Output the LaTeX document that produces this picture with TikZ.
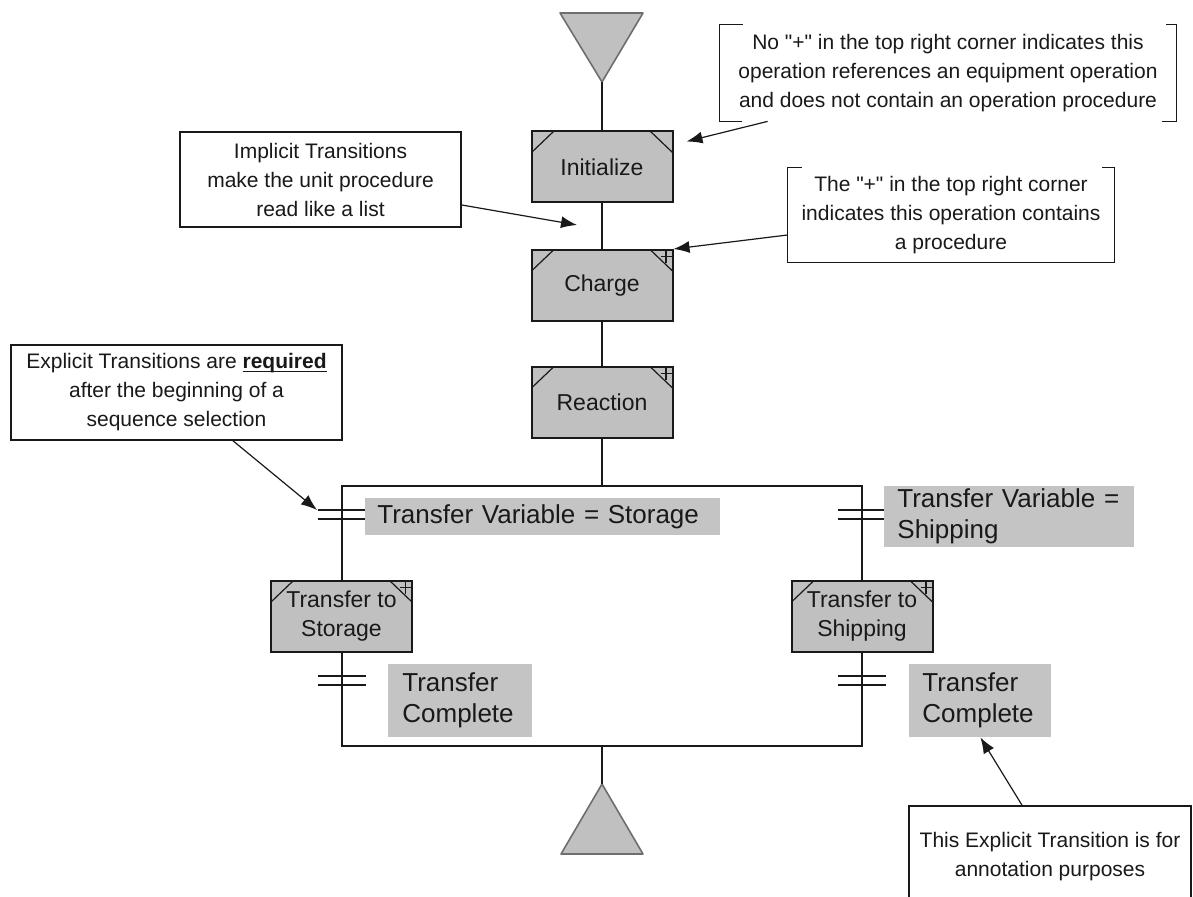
\documentclass[tikz,border=0pt]{standalone}
\usepackage{fontspec}
\setmainfont{Liberation Sans}[Ligatures=TeXOff]
\usetikzlibrary{arrows.meta}

\definecolor{opfill}{RGB}{192,192,192}
\definecolor{lblfill}{RGB}{196,196,196}
\definecolor{triedge}{RGB}{110,110,110}
\definecolor{ink}{RGB}{25,25,25}

% corner marks of an operation box
\newcommand{\opcorners}{%
  \draw[ink, line width=0.6pt] ([yshift=-10.5pt]path picture bounding box.north west) -- ([xshift=11pt]path picture bounding box.north west);
  \draw[ink, line width=0.6pt] ([xshift=-11pt]path picture bounding box.north east) -- ([yshift=-10.5pt]path picture bounding box.north east);}
% "+" mark: the operation contains a procedure
\newcommand{\opplusmark}{%
  \draw[ink, line width=0.6pt] ([xshift=-3.3pt]path picture bounding box.north east) -- ++(0,-6.5pt);
  \draw[ink, line width=0.6pt] ([xshift=-6pt,yshift=-3.3pt]path picture bounding box.north east) -- ++(6pt,0);}

\tikzset{
  flow/.style={draw=ink, line width=1pt},
  opbox/.style={draw=ink, line width=1pt, fill=opfill, minimum width=70.5pt, minimum height=35.5pt,
    inner sep=0pt, align=center, text=ink, font=\fontsize{11.5}{14.5}\selectfont, path picture={\opcorners}},
  opboxplus/.style={opbox, path picture={\opcorners\opplusmark}},
  cond/.style={fill=lblfill, anchor=west, inner ysep=0pt, align=left, text=ink,
    font=\fontsize{13}{15.5}\selectfont},
  note/.style={align=center, inner sep=0pt, text=ink, font=\fontsize{10.5}{14.5}\selectfont},
  boxed/.style={note, draw=ink, line width=0.8pt, fill=white},
  bracket/.style={draw=ink, line width=0.8pt},
  callout/.style={draw=ink, line width=0.6pt, -{Latex[length=8pt,width=6pt]}},
  bar/.style={draw=ink, line width=1pt},
  tri/.style={fill=opfill, draw=triedge, line width=0.8pt, line join=round}
}

\begin{document}
\begin{tikzpicture}[x=0.5pt, y=-0.5pt]
\useasboundingbox (0,0) rectangle (1193,897);
\clip (0,0) rectangle (1193,897);

% start and end of the unit procedure
\draw[tri] (560,13) -- (643,13) -- (602,82) -- cycle;
\coordinate (topApex) at (602,82);
\draw[tri] (602,784) -- (643,854) -- (561,854) -- cycle;
\coordinate (botApex) at (602,784);

% operations
\node[opbox]     (init)   at (602,167)   {Initialize};
\node[opboxplus] (charge) at (602,285.5) {Charge};
\node[opboxplus] (react)  at (602,402.5) {Reaction};
\node[opboxplus] (ts)     at (341.5,616.5) {Transfer to\\Storage};
\node[opboxplus] (tsh)    at (862,616.5)   {Transfer to\\Shipping};

% sequence selection
\coordinate (selTop) at (602,486);
\coordinate (selBot) at (602,746);
\draw[flow] (topApex) -- (init.north);
\draw[flow] (init) -- (charge);
\draw[flow] (charge) -- (react);
\draw[flow] (react.south) -- (selTop);
\draw[flow] (ts.north) -- (ts.north |- selTop) -- (tsh.north |- selTop) -- (tsh.north);
\draw[flow] (ts.south) -- (ts.south |- selBot) -- (tsh.south |- selBot) -- (tsh.south);
\draw[flow] (selBot) -- (botApex);

% explicit transitions
\foreach \x/\y in {341.5/510, 862/510.5, 341.5/676, 862/676} {
  \draw[bar] (\x-24,\y) -- (\x+24,\y);
  \draw[bar] (\x-24,\y+9) -- (\x+24,\y+9);
}
\coordinate (barTL) at (317,510);

% transition conditions
\node[cond, inner xsep=6pt, text width=165.5pt, minimum height=18.5pt] (tvs) at (365,516.5) {Transfer Variable = Storage};
\node[cond, inner xsep=6.5pt, text width=112pt, minimum height=30.5pt] (tvsh) at (884,516.5) {Transfer Variable =\\Shipping};
\node[cond, inner xsep=7pt, text width=58pt, minimum height=36.5pt] (tcl) at (388,700.5) {Transfer\\Complete};
\node[cond, inner xsep=6.5pt, text width=58pt, minimum height=36.5pt] (tcr) at (909,700.5) {Transfer\\Complete};

% annotations
\node[boxed, minimum width=140.5pt, minimum height=47.5pt] (impl) at (320.5,179.5)
  {Implicit Transitions\\make the unit procedure\\read like a list};
\node[boxed, minimum width=165.5pt, minimum height=47.5pt] (expl) at (176.5,392.5)
  {Explicit Transitions are \underline{\smash{\textbf{required}}}\\after the beginning of a\\sequence selection};
\node[note, minimum width=228pt, minimum height=48pt] (np) at (948,73)
  {No "+" in the top right corner indicates this\\operation references an equipment operation\\and does not contain an operation procedure};
\draw[bracket] ([xshift=11.5pt]np.north west) -- (np.north west) -- (np.south west) -- ([xshift=11pt]np.south west);
\draw[bracket] ([xshift=-5pt]np.north east) -- (np.north east) -- (np.south east) -- ([xshift=-7pt]np.south east);
\node[note, minimum width=163pt, minimum height=47pt] (pl) at (951,215)
  {The "+" in the top right corner\\indicates this operation contains\\a procedure};
\draw[bracket] ([xshift=7pt]pl.north west) -- (pl.north west) -- (pl.south west) -- (pl.south east) -- (pl.north east) -- ([xshift=-6pt]pl.north east);
\node[boxed, minimum width=141pt, minimum height=51pt] (bt) at (1050,857)
  {This Explicit Transition is for\\annotation purposes};

% callout arrows
\coordinate (implTip) at (577,225);
\draw[callout] ([yshift=-12.75pt]impl.east) -- (implTip);
\draw[callout] ([xshift=28.25pt]expl.south) -- (barTL);
\draw[callout] ([xshift=24pt]np.south west) -- ([xshift=6.5pt,yshift=-5.5pt]init.north east);
\draw[callout] ([yshift=-10pt]pl.west) -- (charge.north east);
\draw[callout] ([xshift=-14pt]bt.north) -- (tcr.south);
\end{tikzpicture}
\end{document}
